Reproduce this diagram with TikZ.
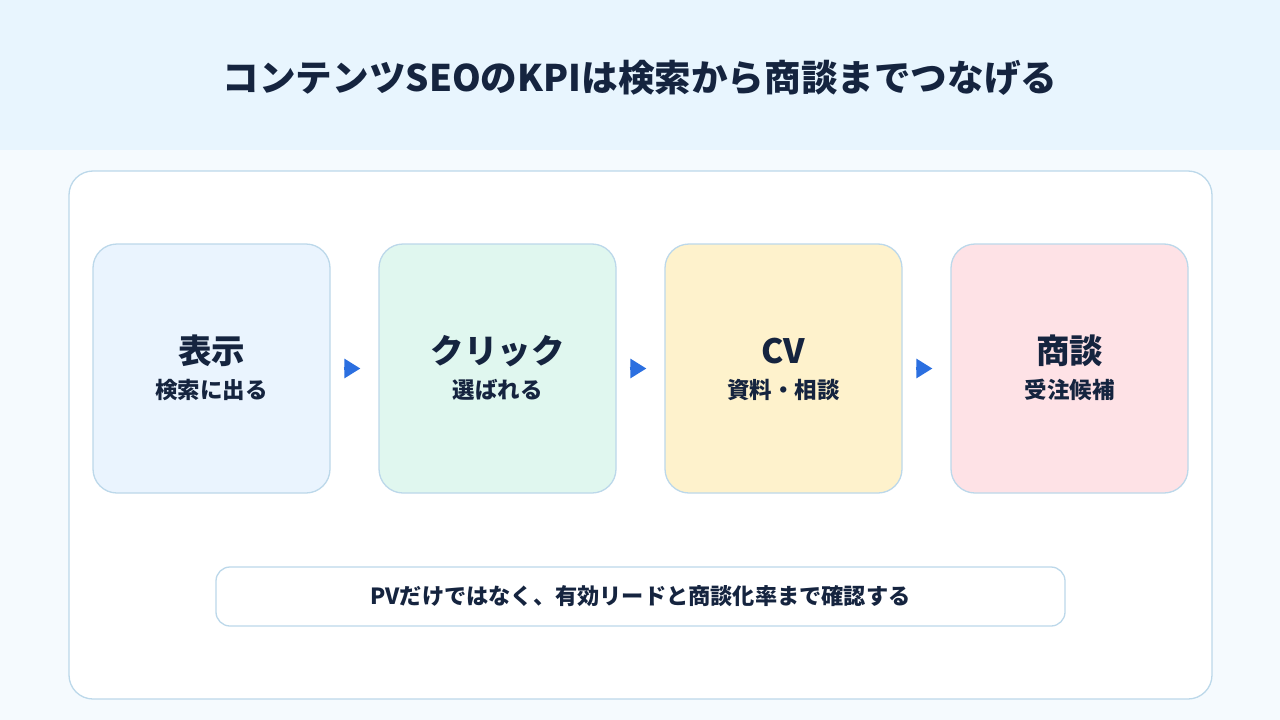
\documentclass[tikz,border=0pt]{standalone}
\usepackage{fontspec}
\setmainfont{Noto Sans CJK JP}
\usetikzlibrary{arrows.meta}
\definecolor{navy}{HTML}{15243F}
\definecolor{headbg}{HTML}{E8F5FE}
\definecolor{pagebg}{HTML}{F5FAFE}
\definecolor{edge}{HTML}{BCD8EA}
\definecolor{fblue}{HTML}{EAF4FE}
\definecolor{fgreen}{HTML}{E0F7EF}
\definecolor{fyellow}{HTML}{FEF2CC}
\definecolor{fpink}{HTML}{FEE2E6}
\definecolor{arrowblue}{HTML}{2B6FE0}
\tikzset{
  stagebox/.style={draw=edge, line width=1.3pt, rounded corners=24pt, minimum width=237pt, minimum height=249pt, inner sep=0pt},
  stagetitle/.style={text=navy, font=\bfseries\fontsize{33.5}{38}\selectfont, inner sep=0pt},
  stagesub/.style={text=navy, font=\bfseries\fontsize{22.5}{26}\selectfont, inner sep=0pt},
  flowarrow/.style={draw=arrowblue, line width=3pt, -{Triangle[length=16pt,width=19pt]}, shorten <=13pt, shorten >=18pt}
}
\begin{document}
\begin{tikzpicture}[x=1pt,y=-1pt]
\useasboundingbox (0,0) rectangle (1280,720);
\fill[pagebg] (0,0) rectangle (1280,720);
\fill[headbg] (0,0) rectangle (1280,150);
\node[text=navy, font=\bfseries\fontsize{36.6}{40}\selectfont, inner sep=0pt] (title) at (640,78) {コンテンツSEOのKPIは検索から商談までつなげる};
\node[draw=edge, line width=1.3pt, fill=white, rounded corners=24pt, minimum width=1143pt, minimum height=528pt, inner sep=0pt] (panel) at (640.5,435) {};
\node[stagebox, fill=fblue] (b1) at (211.5,368.5) {};
\node[stagebox, fill=fgreen] (b2) at (497.5,368.5) {};
\node[stagebox, fill=fyellow] (b3) at (783.5,368.5) {};
\node[stagebox, fill=fpink] (b4) at (1069.5,368.5) {};
\node[stagetitle] (t1) at (211.5,351) {表示};
\node[stagesub] (s1) at (211.5,390) {検索に出る};
\node[stagetitle] (t2) at (497.5,351) {クリック};
\node[stagesub] (s2) at (497.5,390) {選ばれる};
\node[stagetitle] (t3) at (783.5,351) {CV};
\node[stagesub] (s3) at (783.5,390) {資料・相談};
\node[stagetitle] (t4) at (1069.5,351) {商談};
\node[stagesub] (s4) at (1069.5,390) {受注候補};
\draw[flowarrow] (b1.east) -- (b2.west);
\draw[flowarrow] (b2.east) -- (b3.west);
\draw[flowarrow] (b3.east) -- (b4.west);
\node[draw=edge, line width=1.3pt, fill=white, rounded corners=14pt, minimum width=849pt, minimum height=59pt, inner sep=0pt] (note) at (640.5,596.5) {};
\node[text=navy, font=\bfseries\fontsize{22.2}{26}\selectfont, inner sep=0pt] (notetext) at (640.5,596) {PVだけではなく、有効リードと商談化率まで確認する};
\end{tikzpicture}
\end{document}
